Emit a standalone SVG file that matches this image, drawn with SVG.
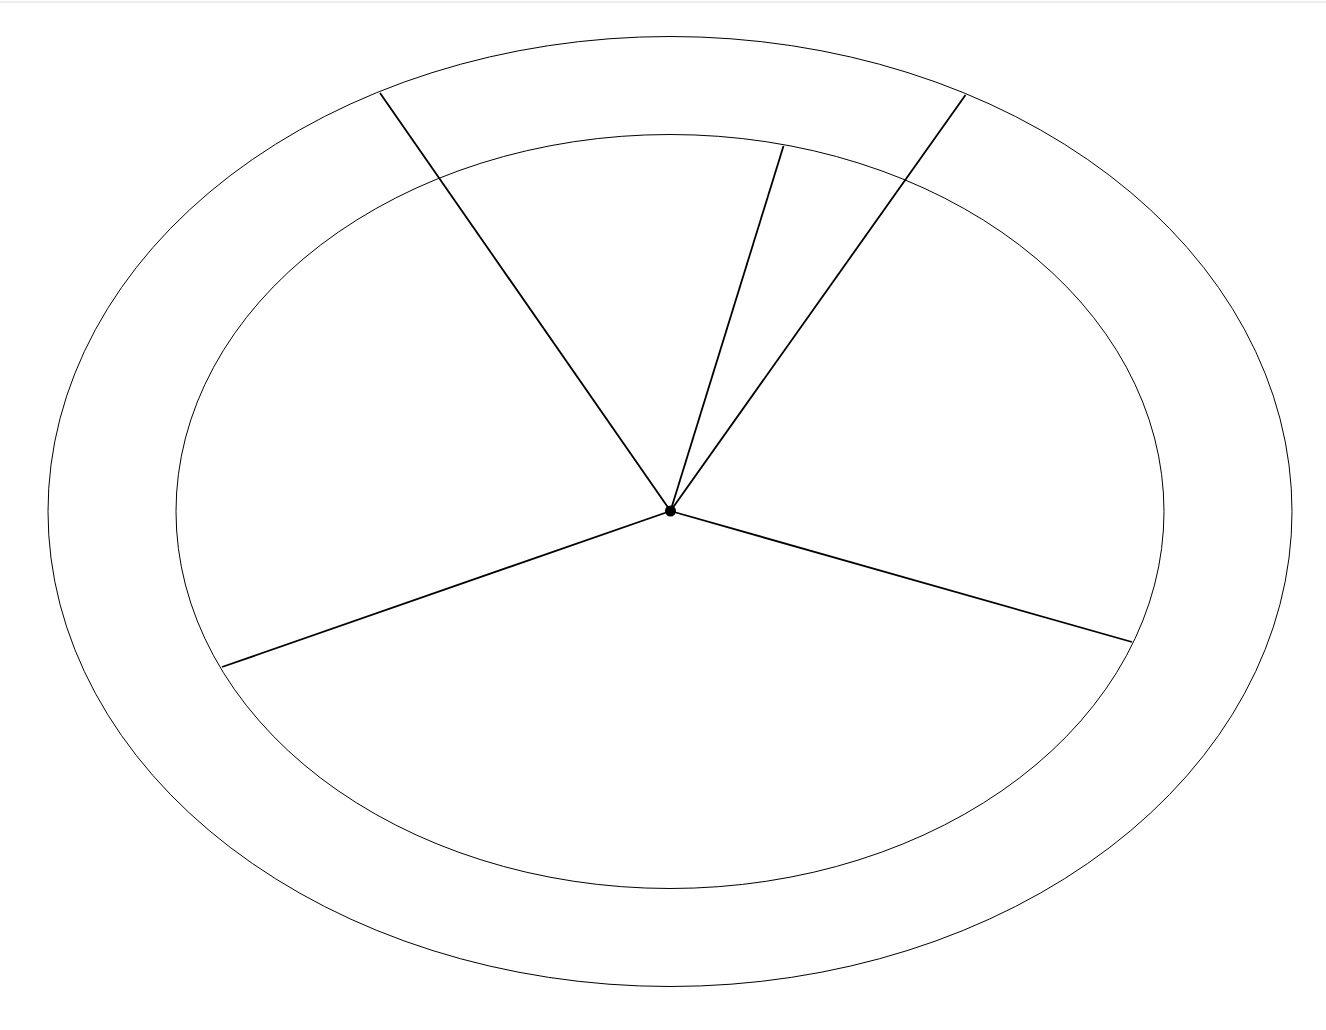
<svg xmlns="http://www.w3.org/2000/svg" width="1326" height="1030" viewBox="0 0 1326 1030">
<style>
.ring{fill:none;stroke:#000;stroke-width:1}
.spoke{stroke:#000;stroke-width:1.8;fill:none}
</style>
<rect x="0" y="0" width="1326" height="1030" fill="#fff"/>
<rect x="0" y="1" width="1326" height="2" fill="#eeeeee"/>
<g id="outer-ellipse"><ellipse class="ring" cx="670" cy="511.5" rx="622" ry="475"/></g>
<g id="inner-ellipse"><ellipse class="ring" cx="670" cy="511.5" rx="494" ry="377"/></g>
<g id="connectors">
<line class="spoke" x1="670.5" y1="511" x2="380" y2="93"/>
<line class="spoke" x1="670.5" y1="511" x2="783.5" y2="146"/>
<line class="spoke" x1="670.5" y1="511" x2="965.5" y2="95"/>
<line class="spoke" x1="670.5" y1="511" x2="222" y2="667"/>
<line class="spoke" x1="670.5" y1="511" x2="1132" y2="642"/>
</g>
<g id="center"><circle cx="670.5" cy="511" r="5.5" fill="#000"/></g>
</svg>
